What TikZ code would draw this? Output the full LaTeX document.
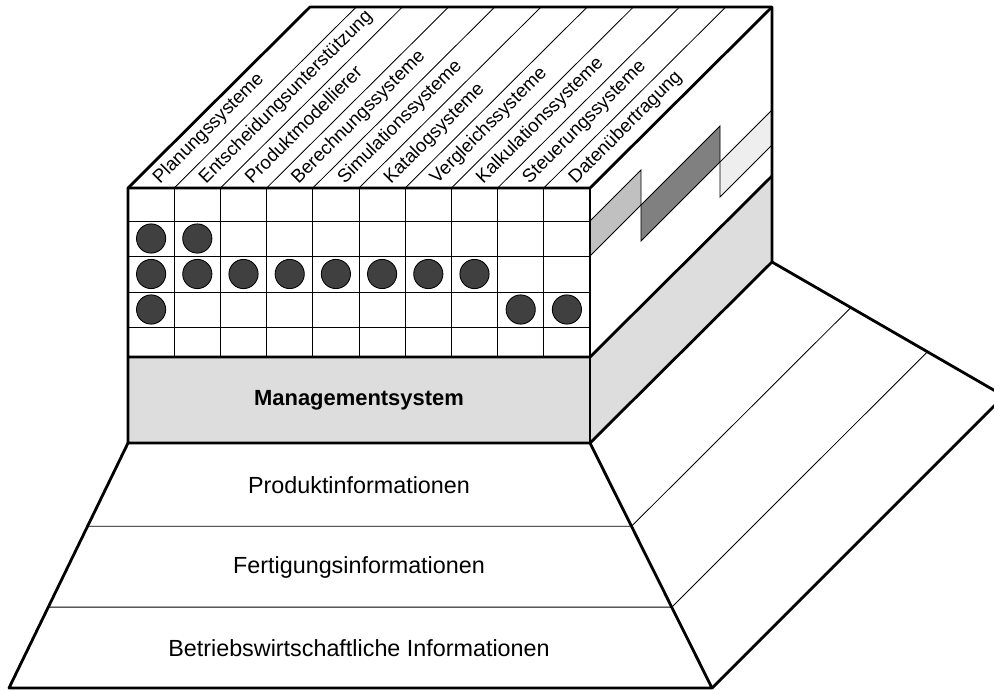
\documentclass[tikz,border=0pt]{standalone}
\usepackage{fontspec}
\setmainfont{Liberation Sans}
\usetikzlibrary{positioning, calc}
\definecolor{mgmtGray}{HTML}{DDDDDD}
\definecolor{dotGray}{HTML}{404040}
\definecolor{flowLight}{HTML}{C0C0C0}
\definecolor{flowDark}{HTML}{808080}
\definecolor{flowPale}{HTML}{EEEEEE}

\begin{document}
\begin{tikzpicture}[
        x=0.025cm, y=-0.025cm,
        outline/.style={line width=2pt, line join=round},
        gridline/.style={line width=0.6pt},
        dot/.style={circle, draw=black, line width=0.6pt, fill=dotGray, minimum size=0.73cm, inner sep=0pt},
        syslabel/.style={rotate=45, anchor=base west, inner sep=0pt, font=\fontsize{13.3}{16}\selectfont},
        layer/.style={font=\fontsize{16.6}{20}\selectfont},
        flow/.style={draw=black, line width=0.6pt}
    ]
        \useasboundingbox (0,0) rectangle (994,691);
        \clip (0,0) rectangle (994,691);
        \coordinate (ftl) at (128,188);
        \coordinate (ftr) at (590,188);
        \coordinate (fml) at (128,357);
        \coordinate (fmr) at (590,357);
        \coordinate (fbl) at (128,443);
        \coordinate (fbr) at (590,443);
        \coordinate (btl) at (310,7);
        \coordinate (btr) at (772,7);
        \coordinate (bmr) at (772,176);
        \coordinate (bbr) at (772,262);
        \coordinate (pbl) at (9,688);
        \coordinate (pbr) at (712,688);
        \coordinate (wtip) at (1004,396);
        % management level, front and side
        \fill[mgmtGray] (fml) rectangle (fbr);
        \fill[mgmtGray] (fmr) -- (bmr) -- (bbr) -- (fbr) -- cycle;
        % data transfer bands on the side
        \filldraw[flow, fill=flowLight] (590,221) -- (641,170) -- (641,205) -- (590,256) -- cycle;
        \filldraw[flow, fill=flowDark] (641,205) -- (720,126) -- (720,162) -- (641,241) -- cycle;
        \filldraw[flow, fill=flowPale] (720,162) -- (772,110) -- (772,145) -- (720,197) -- cycle;
        % grid
        \foreach \y in {221,256,292,327}
            \draw[gridline] (128,\y) -- (590,\y);
        \foreach \i in {1,...,9} {
            \draw[gridline] ({128+46.2*\i},188) -- ({128+46.2*\i},357);
            \draw[gridline] ({128+46.2*\i},188) -- ({310+46.2*\i},7);
        }
        \foreach \r/\c/\y in {2/1/238.5, 2/2/238.5, 3/1/274, 3/2/274, 3/3/274, 3/4/274, 3/5/274, 3/6/274, 3/7/274, 3/8/274, 4/1/309.5, 4/9/309.5, 4/10/309.5}
            \node[dot] (dot-\r-\c) at ({104.9+46.2*\c},\y) {};
        % layers below
        \foreach \t in {0.34,0.67}
            \draw[gridline] ($(fbl)!\t!(pbl)$) -- ($(fbr)!\t!(pbr)$) -- ($(bbr)!\t!(wtip)$);
        \draw[outline] (ftl) -- (btl) -- (btr) -- (bbr) -- (fbr) -- (fbl) -- cycle;
        \draw[outline] (ftl) -- (ftr) -- (btr);
        \draw[outline] (ftr) -- (fbr);
        \draw[outline] (fml) -- (fmr) -- (bmr);
        \draw[outline] (fbl) -- (pbl) -- (pbr) -- (fbr);
        \draw[outline] (bbr) -- (wtip) -- (pbr);
        \foreach \name [count=\i from 0] in {Planungssysteme, Entscheidungsunterstützung, Produktmodellierer, Berechnungssysteme, Simulationssysteme, Katalogsysteme, Vergleichssysteme, Kalkulationssysteme, Steuerungssysteme, Datenübertragung}
            \node[syslabel] (sys\i) at ({159.8+46.2*\i},184.5) {\name};
        \node[font=\bfseries\fontsize{15.6}{18}\selectfont] (mgmt) at (359,400) {Managementsystem};
        \node[layer] (prod) at (359,485) {Produktinformationen};
        \node[layer] (fert) at (359,567) {Fertigungsinformationen};
        \node[layer] (bwl) at (359,648) {Betriebswirtschaftliche Informationen};
    \end{tikzpicture}
\end{document}
